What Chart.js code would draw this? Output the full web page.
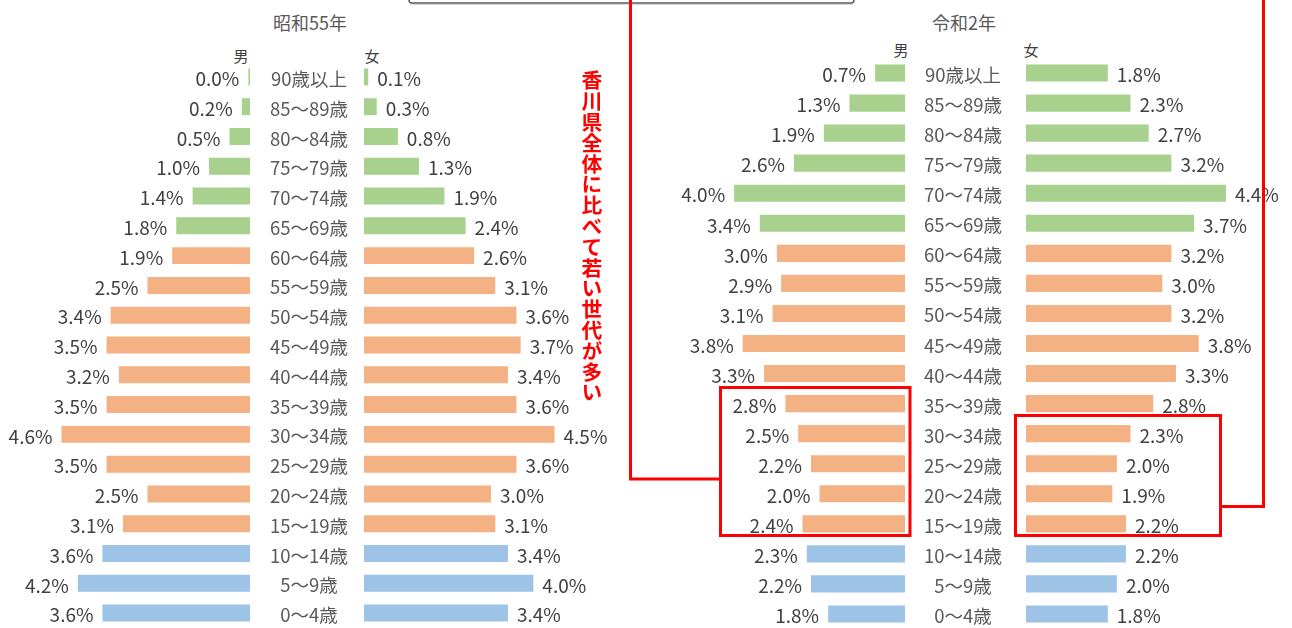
<!DOCTYPE html>
<html lang="ja">
<head>
<meta charset="utf-8">
<script src="https://cdn.jsdelivr.net/npm/chart.js@4.4.1/dist/chart.umd.min.js"></script>
<style>
  html, body { margin: 0; padding: 0; background: #fff; width: 1292px; height: 628px; overflow: hidden; }
  body { position: relative; font-family: "Noto Sans CJK JP", sans-serif; }
  canvas { position: absolute; }
  .txt { position: absolute; color: #595959; white-space: nowrap; line-height: 1; transform: translate(-50%, -50%); }
  .title { font-size: 18px; }
  .sex { font-size: 15px; color: #404040; }
  .note { position: absolute; left: 581px; top: 70px; writing-mode: vertical-rl; font-size: 20.8px; line-height: 1;
          font-weight: bold; color: #ff0000; }
  svg { position: absolute; left: 0; top: 0; }
</style>
</head>
<body>
<div class="txt title" style="left:310px; top:22px;">昭和55年</div>
<div class="txt title" style="left:964px; top:22px;">令和2年</div>
<div class="txt sex" style="left:241px; top:55px;">男</div>
<div class="txt sex" style="left:372px; top:55px;">女</div>
<div class="txt sex" style="left:901px; top:49px;">男</div>
<div class="txt sex" style="left:1031px; top:49px;">女</div>

<canvas id="s55m" width="250" height="566" style="left:0px; top:62px;"></canvas>
<canvas id="s55f" width="365" height="566" style="left:256px; top:62px;"></canvas>
<canvas id="r2m" width="255" height="571" style="left:650px; top:58px;"></canvas>
<canvas id="r2f" width="380" height="571" style="left:910px; top:58px;"></canvas>

<div class="note">香川県全体に比べて若い世代が多い</div>

<svg width="1292" height="628">
  <rect x="409" y="-40" width="445" height="43" rx="3" fill="none" stroke="#595959" stroke-width="1.5"/>
  <line x1="410" y1="4.5" x2="853" y2="4.5" stroke="#d9d9d9" stroke-width="1"/>
  <polyline points="630.5,0 630.5,479 720.5,479" fill="none" stroke="#ff0000" stroke-width="3"/>
  <rect x="720.5" y="387.5" width="189.5" height="148" fill="none" stroke="#ff0000" stroke-width="3"/>
  <polyline points="1263.5,0 1263.5,506.5 1220.5,506.5" fill="none" stroke="#ff0000" stroke-width="3"/>
  <rect x="1015.5" y="415.5" width="205" height="120" fill="none" stroke="#ff0000" stroke-width="3"/>
</svg>

<script>
// age groups, top to bottom
const ages = ['90歳以上', '85～89歳', '80～84歳', '75～79歳', '70～74歳', '65～69歳',
  '60～64歳', '55～59歳', '50～54歳', '45～49歳', '40～44歳', '35～39歳', '30～34歳',
  '25～29歳', '20～24歳', '15～19歳', '10～14歳', '5～9歳', '0～4歳'];

// share of total population (%), 昭和55年
const s55Male = [0.04, 0.2, 0.5, 1.0, 1.4, 1.8, 1.9, 2.5, 3.4, 3.5, 3.2, 3.5, 4.6, 3.5, 2.5, 3.1, 3.6, 4.2, 3.6];
const s55Female = [0.1, 0.3, 0.8, 1.3, 1.9, 2.4, 2.6, 3.1, 3.6, 3.7, 3.4, 3.6, 4.5, 3.6, 3.0, 3.1, 3.4, 4.0, 3.4];

// share of total population (%), 令和2年
const r2Male = [0.7, 1.3, 1.9, 2.6, 4.0, 3.4, 3.0, 2.9, 3.1, 3.8, 3.3, 2.8, 2.5, 2.2, 2.0, 2.4, 2.3, 2.2, 1.8];
const r2Female = [1.8, 2.3, 2.7, 3.2, 4.4, 3.7, 3.2, 3.0, 3.2, 3.8, 3.3, 2.8, 2.3, 2.0, 1.9, 2.2, 2.2, 2.0, 1.8];

const GREEN = '#a9d18e', ORANGE = '#f4b183', BLUE = '#9dc3e6';
const barColors = ages.map((a, i) => i < 6 ? GREEN : (i < 16 ? ORANGE : BLUE));
const FONT = '"Noto Sans CJK JP", "Noto Sans", sans-serif';

// draws the "x.x%" label at the end of each bar
const valueLabels = {
  id: 'valueLabels',
  afterDatasetsDraw(chart, args, opts) {
    const ctx = chart.ctx;
    const values = chart.data.datasets[0].data;
    ctx.save();
    ctx.font = '19px ' + FONT;
    ctx.fillStyle = '#404040';
    ctx.textBaseline = 'middle';
    ctx.textAlign = opts.side === 'left' ? 'right' : 'left';
    chart.getDatasetMeta(0).data.forEach((bar, i) => {
      const x = opts.side === 'left' ? bar.x - 9 : bar.x + 9;
      ctx.fillText(values[i].toFixed(1) + '%', x, bar.y + 2);
    });
    ctx.restore();
  }
};

function makeChart(id, values, side, max, axisWidth, axisPad) {
  const yAxis = side === 'left' ? { display: false } : {
    display: true,
    position: 'left',
    grid: { display: false, drawTicks: false },
    border: { display: false },
    ticks: {
      crossAlign: 'center',
      padding: axisPad,
      labelOffset: 2,
      color: '#595959',
      font: { family: FONT, size: 18.5 }
    },
    afterFit(scale) {
      scale.width = axisWidth;
      scale.paddingTop = 0;
      scale.paddingBottom = 0;
    }
  };

  return new Chart(document.getElementById(id), {
    type: 'bar',
    data: {
      labels: ages,
      datasets: [{
        data: values,
        backgroundColor: barColors,
        borderWidth: 0,
        barPercentage: 0.57,
        categoryPercentage: 1
      }]
    },
    options: {
      indexAxis: 'y',
      responsive: false,
      animation: false,
      layout: { padding: 0 },
      plugins: {
        legend: { display: false },
        tooltip: { enabled: false },
        valueLabels: { side: side }
      },
      scales: {
        x: { display: false, min: 0, max: max, reverse: side === 'left' },
        y: yAxis
      }
    },
    plugins: [valueLabels]
  });
}

makeChart('s55m', s55Male, 'left', 6.1, 0, 0);
makeChart('s55f', s55Female, 'right', 6.07, 108, 16);
makeChart('r2m', r2Male, 'left', 5.97, 0, 0);
makeChart('r2f', r2Female, 'right', 5.81, 116, 24);
</script>
</body>
</html>
